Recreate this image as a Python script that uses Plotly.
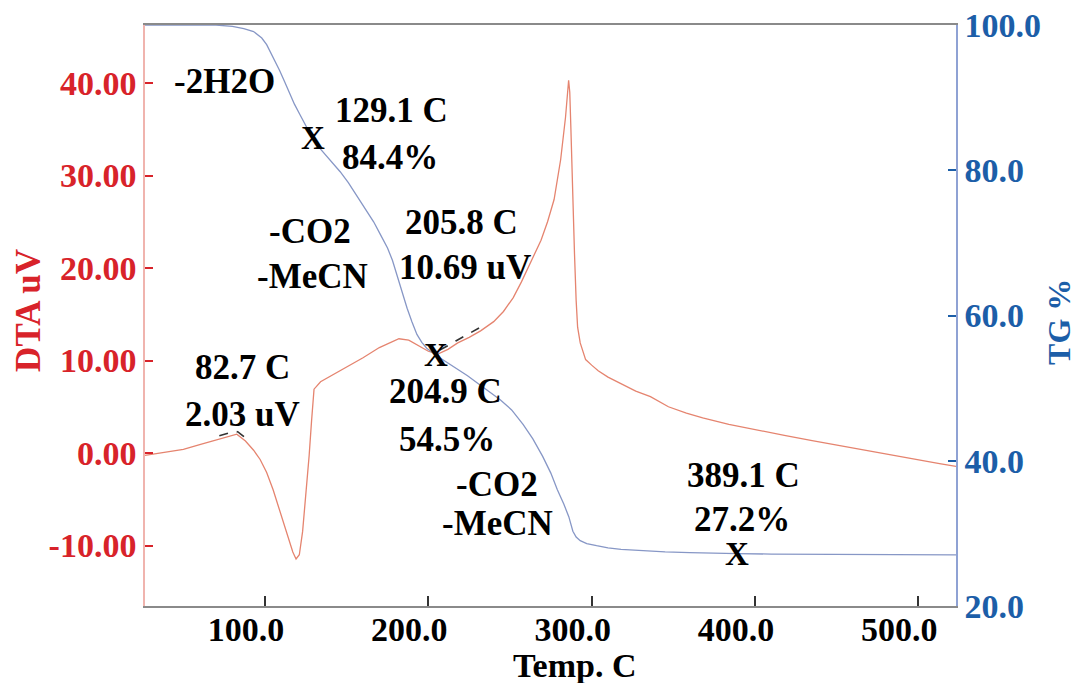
import numpy as np
import plotly.graph_objects as go

# ---- DTA signal (uV) vs temperature (C) ----
temp_dta = [26.5, 35, 50, 60, 70, 76, 82.7, 88, 93, 97, 101, 105, 109, 112, 115, 117,
            119, 121, 123, 125, 127, 128.5, 130, 134, 140, 150, 160, 170, 176, 182,
            188, 194, 200, 205.8, 212, 218, 225, 232, 240, 246, 252, 257, 261, 265,
            269, 273, 277, 281, 284, 285.9, 286.6, 287.3, 288.3, 289.5, 290.5, 291.4,
            293, 296.3, 300, 304, 310, 318, 327, 336, 347, 358, 368, 384, 400, 418,
            435, 455, 475, 490, 502, 513, 523.1]
dta = [-0.25, 0.0, 0.4, 0.9, 1.4, 1.75, 2.03, 1.3, 0.3, -0.7, -2.1, -4.0, -6.3, -8.0,
       -9.7, -10.7, -11.45, -11.0, -8.5, -4.8, -0.3, 3.5, 6.9, 7.7, 8.3, 9.3, 10.3,
       11.4, 11.9, 12.35, 12.2, 11.6, 11.0, 10.69, 11.2, 11.9, 12.5, 13.2, 14.2, 15.3,
       16.8, 18.5, 20.0, 21.5, 23.0, 25.0, 27.4, 31.7, 36.3, 40.3, 39.0, 35.0, 28.1,
       21.5, 16.5, 13.6, 11.9, 10.1, 9.5, 8.9, 8.2, 7.5, 6.7, 6.1, 5.0, 4.3, 3.8, 3.1,
       2.5, 1.9, 1.35, 0.7, 0.05, -0.4, -0.87, -1.15, -1.45]

# ---- TG mass (%) vs temperature (C) ----
temp_tg = [26.5, 50, 70, 80, 87, 93, 98, 101, 105, 109, 112, 115.3, 118, 121.5, 125,
           129.1, 134, 140, 146, 151, 156, 161, 166.5, 171, 175, 178, 181, 184, 187,
           190, 193, 196, 199, 204.9, 212, 218, 224, 230, 237, 244, 251, 258, 264, 270,
           275, 279, 283, 286, 288.5, 290.5, 293, 297, 303, 310, 318, 330, 345, 360,
           375, 389.1, 410, 440, 470, 500, 523.1]
tg = [100, 100, 100, 99.8, 99.5, 99.1, 98.2, 97.3, 95.6, 93.7, 92.2, 90.4, 89.1, 87.6,
      86.2, 84.4, 82.9, 81.3, 79.8, 78.3, 76.6, 74.8, 72.9, 71.0, 69.3, 67.6, 65.3,
      63.0, 61.0, 59.1, 57.4, 56.3, 55.5, 54.5, 53.5, 52.6, 51.7, 50.7, 49.5, 48.4,
      47.0, 45.0, 43.0, 40.6, 38.3, 36.0, 34.0, 32.3, 30.3, 29.5, 29.0, 28.6, 28.3,
      28.0, 27.8, 27.6, 27.45, 27.35, 27.25, 27.2, 27.15, 27.1, 27.05, 27.05, 27.05]

# ---- axis ticks ----
x_ticks = [100, 200, 300, 400, 500]
x_tick_text = ["100.0", "200.0", "300.0", "400.0", "500.0"]
dta_ticks = [-10, 0, 10, 20, 30, 40]
dta_tick_text = ["-10.00", "0.00", "10.00", "20.00", "30.00", "40.00"]
tg_ticks = [20, 40, 60, 80, 100]
tg_tick_text = ["20.0", "40.0", "60.0", "80.0", "100.0"]

# ---- marked TG points (temperature, %) ----
tg_marks_t = [129.1, 204.9, 389.1]
tg_marks_v = [84.4, 54.5, 27.2]

FONT = "Liberation Serif"
RED = "#d8232a"
BLUE = "#1c5ea8"
TXT = 35

fig = go.Figure()
fig.add_trace(go.Scatter(x=temp_dta, y=dta, mode="lines",
                         line=dict(color="#e5846f", width=1.3), yaxis="y",
                         showlegend=False, hoverinfo="skip"))
fig.add_trace(go.Scatter(x=temp_tg, y=tg, mode="lines",
                         line=dict(color="#8797c6", width=1.3), yaxis="y2",
                         showlegend=False, hoverinfo="skip"))

# short dashed tangent marks along the DTA curve at the two evaluated points
for lo, hi in [(72, 90), (207, 234)]:
    xs = np.linspace(lo, hi, 12)
    ys = np.interp(xs, temp_dta, dta) + 0.35
    fig.add_trace(go.Scatter(x=xs, y=ys, mode="lines",
                             line=dict(color="#333333", width=1.6, dash="dash"),
                             yaxis="y", showlegend=False, hoverinfo="skip"))

ann = []


def label(text, x, y, yref="y", size=TXT, height=None):
    ann.append(dict(text=text, x=x, y=y, xref="x", yref=yref, showarrow=False,
                    xanchor="center", yanchor="middle", height=height,
                    font=dict(family=FONT, size=size, color="black", weight="bold")))


label("-2H2O", 74.9, 40.2)
label("129.1 C", 177.2, 37.0)
label("84.4%", 176.5, 32.0)
label("-CO2", 127.5, 23.9)
label("-MeCN", 128.8, 19.1)
label("205.8 C", 220.6, 24.9)
label("10.69 uV", 222.5, 20.1)
label("82.7 C", 86.5, 9.2)
label("2.03 uV", 85.9, 4.2)
label("204.9 C", 210.8, 6.6)
label("54.5%", 211.4, 1.5)
label("-CO2", 242.1, -3.4)
label("-MeCN", 242.1, -7.6)
label("389.1 C", 392.7, -2.4)
label("27.2%", 392.1, -7.2)
for t, v in zip(tg_marks_t, tg_marks_v):
    label("X", t, v, yref="y2", size=33, height=30)

# axis titles
ann.append(dict(text="DTA uV", x=-0.143, y=0.508, xref="paper", yref="paper",
                showarrow=False, textangle=-90, xanchor="center", yanchor="middle",
                font=dict(family=FONT, size=35, color=RED, weight="bold")))
ann.append(dict(text="TG %", x=1.127, y=0.489, xref="paper", yref="paper",
                showarrow=False, textangle=-90, xanchor="center", yanchor="middle",
                font=dict(family=FONT, size=32, color=BLUE, weight="bold")))
ann.append(dict(text="Temp. C", x=0.529, y=-0.1015, xref="paper", yref="paper",
                showarrow=False, xanchor="center", yanchor="middle", height=36,
                font=dict(family=FONT, size=34, color="black", weight="bold")))

fig.update_layout(
    width=1079, height=685,
    margin=dict(l=145, r=123, t=25, b=79, autoexpand=False),
    paper_bgcolor="white", plot_bgcolor="white",
    showlegend=False,
    annotations=ann,
    xaxis=dict(range=[26.5, 523.1], tickvals=x_ticks, ticktext=x_tick_text,
               ticks="inside", ticklen=10, tickwidth=2, tickcolor="#333333",
               showline=True, linecolor="#8a8a8a", linewidth=2, mirror=True,
               showgrid=False, zeroline=False, ticklabelshift=-19,
               ticklabelstandoff=-8,
               tickfont=dict(family=FONT, size=34, color="black", weight="bold")),
    yaxis=dict(range=[-16.54, 46.27], tickvals=dta_ticks, ticktext=dta_tick_text,
               ticks="inside", ticklen=8, tickwidth=2, tickcolor=RED,
               showline=True, linecolor="#f0b4ae", linewidth=1.5,
               showgrid=False, zeroline=False,
               tickfont=dict(family=FONT, size=34, color=RED, weight="bold")),
    yaxis2=dict(range=[20, 100], tickvals=tg_ticks, ticktext=tg_tick_text,
                overlaying="y", side="right",
                ticks="inside", ticklen=8, tickwidth=2, tickcolor=BLUE,
                showline=True, linecolor="#8fa2d4", linewidth=1.5,
                showgrid=False, zeroline=False,
                tickfont=dict(family=FONT, size=34, color=BLUE, weight="bold")),
)

fig.write_html("out.html")
